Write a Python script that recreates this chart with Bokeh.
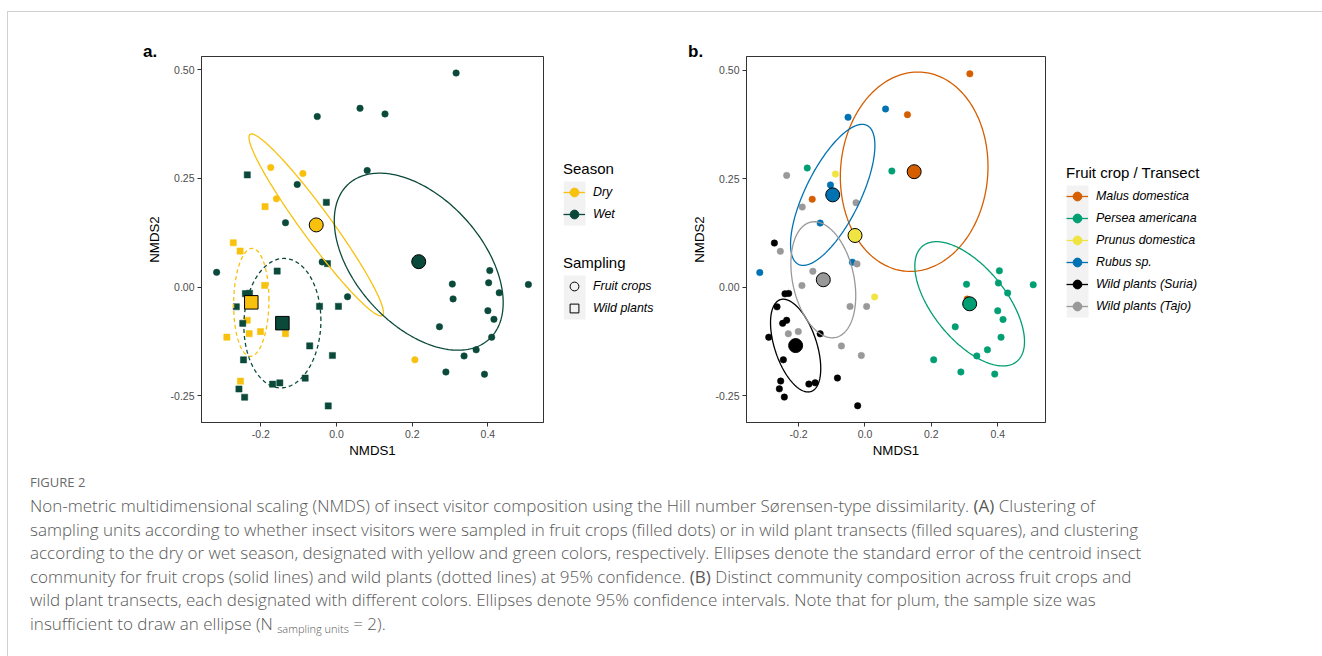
import numpy as np
from bokeh.plotting import figure
from bokeh.models import (Range1d, Legend, LegendItem, Div, FixedTicker,
                          NumeralTickFormatter, Title)
from bokeh.layouts import row, column
from bokeh.embed import file_html
from bokeh.resources import INLINE

# ------------------------------------------------------------------ data
nmds1 = [0.316, 0.062, 0.128, -0.051, 0.081, -0.104, -0.135, -0.038, -0.317, 0.029,
         0.306, 0.405, 0.402, 0.507, 0.430, 0.308, 0.400, 0.416, 0.272, 0.410,
         0.369, 0.337, 0.289, 0.391,
         -0.174, -0.089, -0.159, 0.207,
         -0.236, -0.027, -0.024, -0.157, -0.241, -0.230, -0.265, -0.045, 0.005, -0.248,
         -0.071, -0.011, -0.246, -0.169, -0.150, -0.083, -0.258, -0.243, -0.022,
         -0.273, -0.255, -0.189, -0.190, -0.236, -0.231, -0.201, -0.290, -0.135, -0.254]
nmds2 = [0.492, 0.411, 0.398, 0.392, 0.268, 0.236, 0.148, 0.058, 0.034, -0.022,
         0.007, 0.038, 0.010, 0.006, -0.013, -0.027, -0.054, -0.074, -0.091, -0.115,
         -0.144, -0.158, -0.195, -0.200,
         0.275, 0.261, 0.203, -0.167,
         0.258, 0.195, 0.054, 0.037, -0.015, -0.014, -0.045, -0.044, -0.044, -0.083,
         -0.135, -0.157, -0.167, -0.223, -0.220, -0.209, -0.234, -0.253, -0.273,
         0.102, 0.083, 0.185, 0.004, -0.076, -0.107, -0.102, -0.115, -0.107, -0.216]
# W = wet, D = dry
season_code = ["W", "W", "W", "W", "W", "W", "W", "W", "W", "W",
               "W", "W", "W", "W", "W", "W", "W", "W", "W", "W",
               "W", "W", "W", "W",
               "D", "D", "D", "D",
               "W", "W", "W", "W", "W", "W", "W", "W", "W", "W",
               "W", "W", "W", "W", "W", "W", "W", "W", "W",
               "D", "D", "D", "D", "D", "D", "D", "D", "D", "D"]
# F = fruit crops, P = wild plants
sampling_code = ["F"] * 28 + ["P"] * 29
# M Malus, A Persea, U Prunus, R Rubus, S Suria, T Tajo
transect_code = ["M", "R", "M", "R", "A", "R", "R", "R", "R", "U",
                 "A", "A", "A", "A", "A", "M", "A", "A", "A", "A",
                 "A", "A", "A", "A",
                 "A", "U", "M", "A",
                 "T", "T", "T", "T", "S", "S", "S", "T", "T", "S",
                 "T", "T", "S", "S", "S", "S", "S", "S", "S",
                 "S", "T", "T", "T", "S", "T", "T", "S", "S", "S"]

season_levels = ["Dry", "Wet"]
season_keys = ["D", "W"]
season_colors = ["#F7C10E", "#0B4A3A"]
sampling_levels = ["Fruit crops", "Wild plants"]
sampling_keys = ["F", "P"]
sampling_markers = ["circle", "square"]
transect_levels = ["Malus domestica", "Persea americana", "Prunus domestica",
                   "Rubus sp.", "Wild plants (Suria)", "Wild plants (Tajo)"]
transect_keys = ["M", "A", "U", "R", "S", "T"]
transect_colors = ["#D55E00", "#009E73", "#F0E442", "#0072B2", "#000000", "#999999"]

x_ticks = [-0.2, 0.0, 0.2, 0.4]
y_ticks = [-0.25, 0.0, 0.25, 0.50]

FONT = "Liberation Sans"
H = 460
MBT = 56
MBB = 38
FH = H - MBT - MBB
KEY = 22

X = np.array(nmds1)
Y = np.array(nmds2)
SEA = np.array(season_code)
SMP = np.array(sampling_code)
TRA = np.array(transect_code)


def sd_ellipse(xs, ys, n=240):
    cov = np.cov(xs, ys)
    L = np.linalg.cholesky(cov)
    t = np.linspace(0, 2 * np.pi, n)
    pts = L @ np.vstack([np.cos(t), np.sin(t)])
    return xs.mean() + pts[0], ys.mean() + pts[1]


def panel(width, mbl, mbr, xr, yr, tag):
    p = figure(width=width, height=H, x_range=Range1d(*xr), y_range=Range1d(*yr),
               output_backend="svg", toolbar_location=None,
               min_border_left=mbl, min_border_right=mbr,
               min_border_top=MBT, min_border_bottom=MBB)
    p.border_fill_alpha = 0
    p.grid.visible = False
    p.outline_line_color = "#333333"
    p.outline_line_width = 1
    p.xaxis.ticker = FixedTicker(ticks=x_ticks)
    p.yaxis.ticker = FixedTicker(ticks=y_ticks)
    p.xaxis.formatter = NumeralTickFormatter(format="0.0")
    p.yaxis.formatter = NumeralTickFormatter(format="0.00")
    for ax in p.axis:
        ax.axis_line_color = "#333333"
        ax.major_tick_line_color = "#333333"
        ax.minor_tick_line_color = None
        ax.major_tick_out = 4
        ax.major_tick_in = 0
        ax.major_label_standoff = 3
        ax.major_label_text_font = FONT
        ax.major_label_text_font_size = "10.5px"
        ax.major_label_text_color = "#4D4D4D"
        ax.axis_label_text_font = FONT
        ax.axis_label_text_font_size = "13.3px"
        ax.axis_label_text_font_style = "normal"
        ax.axis_label_text_color = "black"
    p.xaxis.axis_label = "NMDS1"
    p.yaxis.axis_label = "NMDS2"
    p.xaxis.axis_label_standoff = 2
    p.yaxis.axis_label_standoff = 6
    p.add_layout(Title(text=tag, align="left", offset=-58.5, standoff=-8,
                       text_font=FONT, text_font_style="bold",
                       text_font_size="17px", text_color="black"), "above")
    return p


def legend_fig(width, mbl):
    f = figure(width=width, height=H, x_axis_type=None, y_axis_type=None,
               toolbar_location=None, output_backend="svg",
               min_border_left=mbl, min_border_right=0,
               min_border_top=MBT, min_border_bottom=MBB,
               x_range=Range1d(0, width - mbl), y_range=Range1d(0, FH))
    f.border_fill_alpha = 0
    f.outline_line_color = None
    f.grid.visible = False
    return f


def style_legend(leg):
    leg.title_text_font = FONT
    leg.title_text_font_size = "15px"
    leg.title_text_font_style = "normal"
    leg.title_text_color = "black"
    leg.title_standoff = 4
    leg.label_text_font = FONT
    leg.label_text_font_size = "12.4px"
    leg.label_text_font_style = "italic"
    leg.label_text_color = "black"
    leg.glyph_width = KEY
    leg.glyph_height = KEY
    leg.label_height = KEY
    leg.label_standoff = 8
    leg.spacing = 0
    leg.padding = 0
    leg.margin = 0
    leg.border_line_color = None
    leg.background_fill_alpha = 0


OFF = [-1000, -999]   # dummy legend renderers live outside the visible frame

# ------------------------------------------------------------------ panel a
pa = panel(552, 201, 9, (-0.357, 0.547), (-0.311, 0.530), "a.")
for sk, col in zip(season_keys, season_colors):
    for pk, mk in zip(sampling_keys, sampling_markers):
        m = (SEA == sk) & (SMP == pk)
        pa.scatter(X[m], Y[m], marker=mk, size=6.5 if mk == "circle" else 6.2,
                   fill_color=col, line_color=col, line_width=0.5)
for sk, col in zip(season_keys, season_colors):
    for pk, mk in zip(sampling_keys, sampling_markers):
        m = (SEA == sk) & (SMP == pk)
        ex, ey = sd_ellipse(X[m], Y[m])
        pa.line(ex, ey, line_color=col, line_width=1.3,
                line_dash="solid" if pk == "F" else "4 3")
for sk, col in zip(season_keys, season_colors):
    for pk, mk in zip(sampling_keys, sampling_markers):
        m = (SEA == sk) & (SMP == pk)
        pa.scatter([X[m].mean()], [Y[m].mean()], marker=mk,
                   size=14 if mk == "circle" else 13.5,
                   fill_color=col, line_color="black", line_width=1)

# legend a
la = legend_fig(128, 11)
LEG1_Y = 197
LEG2_Y = 103
season_items = []
for lab, col in zip(season_levels, season_colors):
    r1 = la.line(x=OFF, y=OFF, line_color=col, line_width=1.3)
    r2 = la.scatter(x=OFF, y=OFF, marker="circle", size=6, fill_color=col, line_color=col)
    season_items.append(LegendItem(label=lab, renderers=[r1, r2]))
sampling_items = []
for lab, mk in zip(sampling_levels, sampling_markers):
    r = la.scatter(x=OFF, y=OFF, marker=mk, size=5, fill_color=None, line_color="black",
                   line_width=1)
    sampling_items.append(LegendItem(label=lab, renderers=[r]))
la.quad(left=[0, 0], right=[KEY, KEY],
        bottom=[LEG1_Y, LEG2_Y], top=[LEG1_Y + 2 * KEY, LEG2_Y + 2 * KEY],
        fill_color="#F2F2F2", line_color=None, level="underlay")
leg1 = Legend(items=season_items, title="Season", location=(0, LEG1_Y))
style_legend(leg1)
leg2 = Legend(items=sampling_items, title="Sampling", location=(0, LEG2_Y))
style_legend(leg2)
la.add_layout(leg1, "center")
la.add_layout(leg2, "center")

# ------------------------------------------------------------------ panel b
pb = panel(375, 66, 10, (-0.357, 0.544), (-0.3115, 0.532), "b.")
for tk, col in zip(transect_keys, transect_colors):
    m = TRA == tk
    pb.scatter(X[m], Y[m], marker="circle", size=6.5, fill_color=col,
               line_color=col, line_width=0.5)
for tk, col in zip(transect_keys, transect_colors):
    m = TRA == tk
    if m.sum() >= 3:
        ex, ey = sd_ellipse(X[m], Y[m])
        pb.line(ex, ey, line_color=col, line_width=1.3)
for tk, col in zip(transect_keys, transect_colors):
    m = TRA == tk
    pb.scatter([X[m].mean()], [Y[m].mean()], marker="circle", size=14,
               fill_color=col, line_color="black", line_width=1)

lb = legend_fig(267, 11)
LEG3_Y = 105
tr_items = []
for lab, col in zip(transect_levels, transect_colors):
    r1 = lb.line(x=OFF, y=OFF, line_color=col, line_width=1.3)
    r2 = lb.scatter(x=OFF, y=OFF, marker="circle", size=6, fill_color=col, line_color=col)
    tr_items.append(LegendItem(label=lab, renderers=[r1, r2]))
lb.quad(left=[0], right=[KEY], bottom=[LEG3_Y], top=[LEG3_Y + 6 * KEY],
        fill_color="#F2F2F2", line_color=None, level="underlay")
leg3 = Legend(items=tr_items, title="Fruit crop / Transect", location=(0, LEG3_Y))
style_legend(leg3)
lb.add_layout(leg3, "center")

# ------------------------------------------------------------------ caption
caption_lines = [
    "Non-metric multidimensional scaling (NMDS) of insect visitor composition using the Hill number Sørensen-type dissimilarity. <b>(A)</b> Clustering of",
    "sampling units according to whether insect visitors were sampled in fruit crops (filled dots) or in wild plant transects (filled squares), and clustering",
    "according to the dry or wet season, designated with yellow and green colors, respectively. Ellipses denote the standard error of the centroid insect",
    "community for fruit crops (solid lines) and wild plants (dotted lines) at 95% confidence. <b>(B)</b> Distinct community composition across fruit crops and",
    "wild plant transects, each designated with different colors. Ellipses denote 95% confidence intervals. Note that for plum, the sample size was",
    "insufficient to draw an ellipse (N <sub style='font-size:11px;vertical-align:-3px;'>sampling units</sub> = 2).",
]
cap_html = (
    "<div style=\"font-family:'Open Sans',sans-serif;padding-left:30px;white-space:nowrap;\">"
    "<div style='font-size:13px;line-height:16px;margin-top:14px;color:#6a6a6a;'>FIGURE 2</div>"
    "<div style='font-size:17px;line-height:23.6px;margin-top:4px;color:#585858;font-weight:300;'>"
    + "<br>".join(caption_lines) +
    "</div></div>"
)
cap = Div(text=cap_html, width=1322, height=196, margin=(0, 0, 0, 0))

frame_css = ("linear-gradient(#d2d2d2,#d2d2d2) 7px 11px / calc(100% - 7px) 1px no-repeat, "
             "linear-gradient(#d2d2d2,#d2d2d2) 7px 11px / 1px calc(100% - 11px) no-repeat, white")
layout = column(row(pa, la, pb, lb), cap, styles={"background": frame_css})
open("out.html", "w").write(file_html(layout, INLINE))
